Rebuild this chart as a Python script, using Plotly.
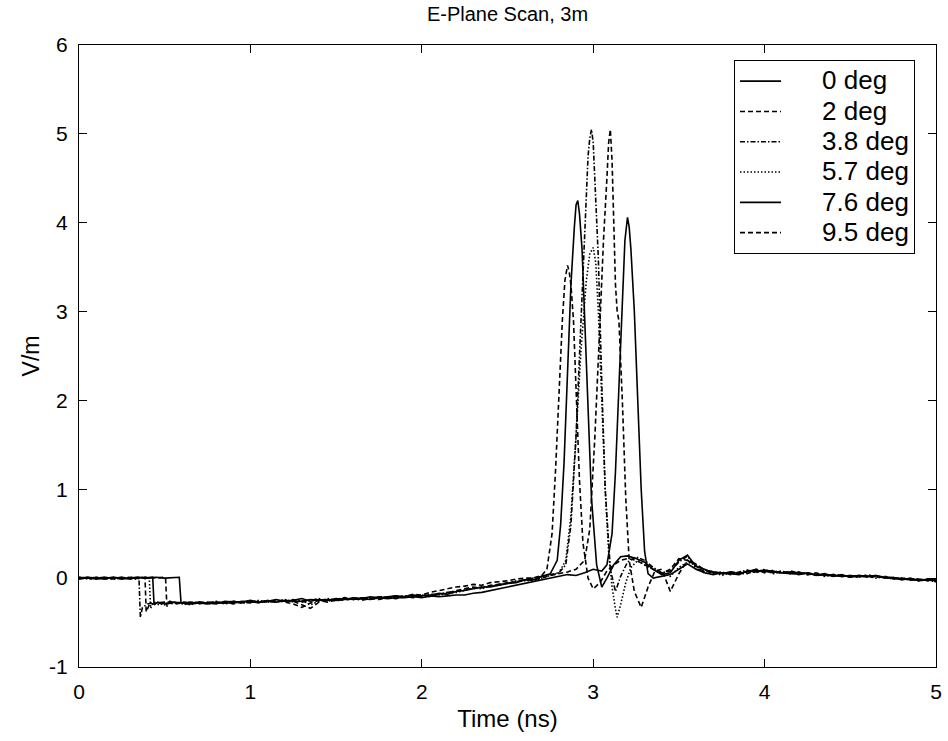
import plotly.graph_objects as go

# ---------------- data ----------------
SERIES_NAMES = ["0 deg", "2 deg", "3.8 deg", "5.7 deg", "7.6 deg", "9.5 deg"]

X_TICKS = [0, 1, 2, 3, 4, 5]
X_TICK_LABELS = ["0", "1", "2", "3", "4", "5"]
Y_TICKS = [-1, 0, 1, 2, 3, 4, 5, 6]
Y_TICK_LABELS = ["-1", "0", "1", "2", "3", "4", "5", "6"]

# shared time grids (ns)
T_PRE = [0.0, 0.05, 0.10, 0.15, 0.20, 0.25, 0.30, 0.34]
T_MID = [0.65, 0.70, 0.75, 0.80, 0.85, 0.90, 0.95, 1.00, 1.05, 1.10,
         1.15, 1.20, 1.25, 1.30, 1.35, 1.40, 1.45, 1.50, 1.55, 1.60,
         1.65, 1.70, 1.75, 1.80, 1.85, 1.90, 1.95, 2.00, 2.05, 2.10,
         2.15, 2.20, 2.25, 2.30, 2.35, 2.40, 2.45, 2.50, 2.55, 2.60]
T_POST = [3.45, 3.50, 3.55, 3.60, 3.65, 3.70, 3.75, 3.80, 3.85, 3.90,
          3.95, 4.00, 4.05, 4.10, 4.15, 4.20, 4.25, 4.30, 4.35, 4.40,
          4.45, 4.50, 4.55, 4.60, 4.65, 4.70, 4.75, 4.80, 4.85, 4.90,
          4.95, 5.00]

# ---- 0 deg ----
PRE_0 = [0.0, 0.01, -0.01, 0.0, 0.01, -0.01, 0.0, 0.01]
STEP_T_0 = [0.40, 0.45, 0.50, 0.55, 0.585, 0.595, 0.62]
STEP_V_0 = [0.0, 0.01, 0.0, 0.01, 0.01, -0.27, -0.29]
MID_0 = [-0.29, -0.28, -0.29, -0.27, -0.28, -0.28, -0.26, -0.27, -0.27, -0.26,
         -0.27, -0.25, -0.26, -0.26, -0.24, -0.25, -0.24, -0.25, -0.23, -0.24,
         -0.23, -0.24, -0.22, -0.23, -0.22, -0.22, -0.21, -0.22, -0.2, -0.21,
         -0.2, -0.19, -0.19, -0.17, -0.16, -0.14, -0.12, -0.1, -0.08, -0.06]
PULSE_T_0 = [2.65, 2.70, 2.75, 2.80, 2.85, 2.90, 2.95, 3.00, 3.05, 3.08, 3.11, 3.13,
             3.15, 3.17, 3.185, 3.20, 3.21, 3.22, 3.24, 3.26, 3.28, 3.30, 3.32, 3.35, 3.40]
PULSE_V_0 = [-0.04, -0.02, 0.0, 0.02, 0.04, 0.03, 0.06, 0.1, 0.08, 0.15, 0.5, 1.2,
             2.2, 3.2, 3.8, 4.06, 3.95, 3.7, 3.0, 2.0, 1.0, 0.3, 0.05, 0.0, 0.02]
POST_0 = [0.04, 0.10, 0.16, 0.10, 0.06, 0.04, 0.06, 0.05, 0.04, 0.08, 0.09, 0.07,
          0.08, 0.06, 0.07, 0.04, 0.06, 0.03, 0.05, 0.02, 0.04, 0.01, 0.03, 0.02,
          0.03, 0.0, 0.01, -0.02, 0.0, -0.03, -0.01, -0.03]

# ---- 2 deg ----
PRE_2 = [-0.01, 0.0, 0.01, -0.01, 0.0, 0.01, -0.01, 0.0]
STEP_T_2 = [0.40, 0.45, 0.50, 0.505, 0.513, 0.53, 0.57, 0.61]
STEP_V_2 = [0.01, 0.0, 0.01, 0.0, -0.32, -0.26, -0.29, -0.27]
MID_2 = [-0.28, -0.29, -0.27, -0.28, -0.27, -0.29, -0.27, -0.28, -0.26, -0.27,
         -0.25, -0.27, -0.29, -0.33, -0.28, -0.25, -0.27, -0.24, -0.25, -0.23,
         -0.25, -0.23, -0.24, -0.22, -0.23, -0.21, -0.22, -0.2, -0.21, -0.18,
         -0.17, -0.14, -0.12, -0.1, -0.11, -0.08, -0.07, -0.05, -0.04, -0.02]
PULSE_T_2 = [2.65, 2.70, 2.75, 2.80, 2.85, 2.90, 2.95, 2.98, 3.01, 3.04, 3.06, 3.08,
             3.09, 3.10, 3.11, 3.12, 3.13, 3.14, 3.15, 3.17, 3.19, 3.21, 3.24, 3.28,
             3.32, 3.36, 3.40]
PULSE_V_2 = [-0.02, 0.0, 0.03, 0.05, 0.07, 0.1, 0.2, 0.55, 1.6, 2.9, 3.8, 4.5,
             4.9, 5.05, 4.7, 4.0, 3.3, 3.0, 2.9, 2.0, 0.9, 0.2, -0.15, -0.33,
             -0.1, 0.08, 0.1]
POST_2 = [-0.15, 0.05, 0.2, 0.14, 0.07, 0.08, 0.04, 0.07, 0.06, 0.05, 0.1, 0.06,
          0.09, 0.05, 0.08, 0.06, 0.04, 0.06, 0.03, 0.04, 0.02, 0.03, 0.01, 0.04,
          0.01, 0.02, -0.01, 0.0, -0.02, -0.01, -0.03, -0.02]

# ---- 3.8 deg ----
PRE_38 = [0.01, -0.01, 0.0, 0.01, -0.01, 0.0, 0.01, 0.0]
STEP_T_38 = [0.35, 0.358, 0.37, 0.40, 0.45, 0.50, 0.55, 0.60]
STEP_V_38 = [0.0, -0.44, -0.33, -0.29, -0.27, -0.3, -0.27, -0.28]
MID_38 = [-0.27, -0.28, -0.28, -0.26, -0.29, -0.27, -0.28, -0.26, -0.27, -0.25,
          -0.26, -0.26, -0.24, -0.27, -0.25, -0.23, -0.26, -0.24, -0.22, -0.24,
          -0.22, -0.23, -0.21, -0.22, -0.21, -0.2, -0.21, -0.19, -0.2, -0.18,
          -0.16, -0.15, -0.13, -0.12, -0.1, -0.09, -0.07, -0.06, -0.03, -0.02]
PULSE_T_38 = [2.65, 2.70, 2.75, 2.80, 2.84, 2.87, 2.90, 2.93, 2.95, 2.97, 2.98, 2.99,
              3.00, 3.01, 3.03, 3.05, 3.07, 3.10, 3.13, 3.16, 3.20, 3.25, 3.30, 3.35, 3.40]
PULSE_V_38 = [0.0, 0.02, 0.04, 0.06, 0.15, 0.6, 1.6, 3.0, 4.0, 4.75, 4.95, 5.05,
              4.9, 4.5, 3.6, 2.2, 1.0, 0.1, -0.15, 0.02, 0.18, 0.24, 0.2, 0.12, 0.06]
POST_38 = [0.08, 0.18, 0.25, 0.1, 0.09, 0.05, 0.07, 0.04, 0.07, 0.09, 0.06, 0.1,
           0.06, 0.08, 0.05, 0.07, 0.04, 0.05, 0.02, 0.04, 0.03, 0.01, 0.03, 0.02,
           0.0, 0.02, 0.0, -0.01, -0.02, -0.01, -0.03, -0.02]

# ---- 5.7 deg ----
PRE_57 = [0.0, 0.0, 0.01, 0.0, -0.01, 0.01, 0.0, -0.01]
STEP_T_57 = [0.37, 0.41, 0.418, 0.43, 0.47, 0.52, 0.57, 0.61]
STEP_V_57 = [0.01, 0.0, -0.34, -0.28, -0.3, -0.27, -0.28, -0.29]
MID_57 = [-0.3, -0.27, -0.29, -0.28, -0.27, -0.26, -0.28, -0.27, -0.25, -0.27,
          -0.26, -0.24, -0.27, -0.25, -0.3, -0.26, -0.23, -0.25, -0.24, -0.22,
          -0.24, -0.22, -0.23, -0.21, -0.22, -0.21, -0.2, -0.2, -0.18, -0.19,
          -0.17, -0.16, -0.14, -0.11, -0.12, -0.09, -0.08, -0.06, -0.04, -0.03]
PULSE_T_57 = [2.65, 2.70, 2.75, 2.80, 2.84, 2.87, 2.90, 2.93, 2.96, 2.98, 3.00, 3.015,
              3.03, 3.05, 3.07, 3.09, 3.11, 3.13, 3.14, 3.16, 3.19, 3.22, 3.26, 3.30,
              3.35, 3.40]
PULSE_V_57 = [-0.03, 0.0, 0.03, 0.06, 0.2, 0.7, 1.6, 2.6, 3.35, 3.65, 3.72, 3.55,
              3.0, 2.0, 1.0, 0.3, -0.1, -0.35, -0.44, -0.3, -0.05, 0.12, 0.2, 0.15,
              0.1, 0.05]
POST_57 = [0.02, 0.12, 0.18, 0.15, 0.05, 0.07, 0.03, 0.06, 0.04, 0.06, 0.07, 0.09,
           0.05, 0.07, 0.06, 0.04, 0.06, 0.03, 0.04, 0.02, 0.03, 0.02, 0.01, 0.03,
           0.02, 0.01, -0.01, 0.0, -0.01, -0.03, -0.02, -0.04]

# ---- 7.6 deg ----
PRE_76 = [-0.01, 0.01, 0.0, -0.01, 0.01, 0.0, -0.01, 0.01]
STEP_T_76 = [0.38, 0.43, 0.438, 0.46, 0.50, 0.55, 0.60]
STEP_V_76 = [0.0, 0.01, -0.3, -0.27, -0.29, -0.27, -0.28]
MID_76 = [-0.28, -0.27, -0.28, -0.29, -0.26, -0.27, -0.27, -0.25, -0.27, -0.26,
          -0.24, -0.26, -0.25, -0.23, -0.26, -0.24, -0.25, -0.23, -0.24, -0.22,
          -0.23, -0.21, -0.22, -0.21, -0.2, -0.21, -0.19, -0.2, -0.19, -0.17,
          -0.18, -0.15, -0.14, -0.12, -0.1, -0.1, -0.08, -0.06, -0.05, -0.02]
PULSE_T_76 = [2.65, 2.70, 2.75, 2.79, 2.81, 2.83, 2.85, 2.87, 2.89, 2.90, 2.91, 2.92,
              2.935, 2.95, 2.97, 2.99, 3.02, 3.05, 3.08, 3.12, 3.16, 3.20, 3.25, 3.30,
              3.35, 3.40]
PULSE_V_76 = [-0.02, 0.02, 0.05, 0.2, 0.6, 1.3, 2.3, 3.3, 3.95, 4.2, 4.25, 4.1,
              3.7, 2.9, 1.8, 0.9, 0.15, -0.1, 0.0, 0.15, 0.24, 0.25, 0.22, 0.18,
              0.1, 0.04]
POST_76 = [0.06, 0.2, 0.26, 0.13, 0.1, 0.06, 0.05, 0.07, 0.05, 0.08, 0.07, 0.09,
           0.07, 0.06, 0.05, 0.06, 0.05, 0.04, 0.04, 0.03, 0.02, 0.03, 0.02, 0.02,
           0.03, 0.01, 0.0, -0.01, -0.01, -0.02, -0.02, -0.03]

# ---- 9.5 deg ----
PRE_95 = [0.01, 0.0, -0.01, 0.01, 0.0, -0.01, 0.01, 0.0]
STEP_T_95 = [0.36, 0.385, 0.392, 0.41, 0.45, 0.50, 0.55, 0.60]
STEP_V_95 = [0.0, 0.01, -0.38, -0.3, -0.28, -0.27, -0.29, -0.27]
MID_95 = [-0.29, -0.27, -0.28, -0.27, -0.28, -0.26, -0.27, -0.26, -0.28, -0.25,
          -0.27, -0.25, -0.26, -0.3, -0.34, -0.27, -0.24, -0.26, -0.23, -0.24,
          -0.22, -0.23, -0.21, -0.22, -0.2, -0.21, -0.18, -0.19, -0.16, -0.14,
          -0.12, -0.1, -0.09, -0.07, -0.08, -0.05, -0.04, -0.03, -0.01, 0.0]
PULSE_T_95 = [2.65, 2.70, 2.73, 2.76, 2.78, 2.80, 2.82, 2.835, 2.85, 2.86, 2.87, 2.885,
              2.90, 2.92, 2.94, 2.97, 3.00, 3.04, 3.08, 3.12, 3.16, 3.20, 3.25, 3.30,
              3.35, 3.40]
PULSE_V_95 = [0.0, 0.03, 0.1, 0.5, 1.2, 2.1, 2.9, 3.35, 3.52, 3.45, 3.3, 2.9,
              2.1, 1.1, 0.4, 0.0, -0.12, -0.05, 0.08, 0.15, 0.2, 0.22, 0.2, 0.15,
              0.1, 0.05]
POST_95 = [0.1, 0.22, 0.2, 0.16, 0.09, 0.07, 0.06, 0.05, 0.06, 0.07, 0.1, 0.08,
           0.06, 0.08, 0.05, 0.05, 0.06, 0.04, 0.03, 0.04, 0.02, 0.02, 0.03, 0.01,
           0.02, 0.01, 0.0, 0.0, -0.02, -0.02, -0.01, -0.04]

SEGMENTS = [
    (PRE_0, STEP_T_0, STEP_V_0, MID_0, PULSE_T_0, PULSE_V_0, POST_0),
    (PRE_2, STEP_T_2, STEP_V_2, MID_2, PULSE_T_2, PULSE_V_2, POST_2),
    (PRE_38, STEP_T_38, STEP_V_38, MID_38, PULSE_T_38, PULSE_V_38, POST_38),
    (PRE_57, STEP_T_57, STEP_V_57, MID_57, PULSE_T_57, PULSE_V_57, POST_57),
    (PRE_76, STEP_T_76, STEP_V_76, MID_76, PULSE_T_76, PULSE_V_76, POST_76),
    (PRE_95, STEP_T_95, STEP_V_95, MID_95, PULSE_T_95, PULSE_V_95, POST_95),
]

# ---------------- styling ----------------
DASHES = ["solid", "5px,3px", "5px,2px,1.5px,2px", "1.5px,2px", "solid", "5px,3px"]
FONT = "Liberation Sans, Arial, Helvetica, sans-serif"
NBSP = "\u00a0"

fig = go.Figure()
for name, dash, seg in zip(SERIES_NAMES, DASHES, SEGMENTS):
    pre, st_t, st_v, mid, pu_t, pu_v, post = seg
    t = T_PRE + st_t + T_MID + pu_t + T_POST
    v = pre + st_v + mid + pu_v + post
    fig.add_trace(go.Scatter(
        x=t, y=v, mode="lines",
        name='<span style="font-size:26px">' + NBSP * 5 + name + "</span>",
        line=dict(color="black", width=1.6, dash=dash),
    ))

axis_common = dict(
    showgrid=False, zeroline=False, showline=True, linecolor="black",
    linewidth=1, mirror="ticks", ticks="inside", ticklen=8, tickwidth=1,
    tickcolor="black", tickfont=dict(family=FONT, size=21, color="black"),
    ticklabelstandoff=6, automargin=False,
)

fig.update_layout(
    width=948, height=741,
    margin=dict(l=79, r=12, t=45, b=74, autoexpand=False),
    paper_bgcolor="white", plot_bgcolor="white",
    font=dict(family=FONT, color="black"),
    title=dict(text="E-Plane Scan, 3m", x=0.5, xref="paper", xanchor="center",
               y=1 - 14 / 741, yref="container", yanchor="middle",
               font=dict(family=FONT, size=20, color="black")),
    xaxis=dict(range=[0, 5], tickvals=X_TICKS, ticktext=X_TICK_LABELS,
               title=dict(text="Time (ns)", font=dict(family=FONT, size=24), standoff=7),
               **axis_common),
    yaxis=dict(range=[-1, 6], tickvals=Y_TICKS, ticktext=Y_TICK_LABELS,
               title=dict(text="V/m", font=dict(family=FONT, size=23), standoff=3),
               **axis_common),
    legend=dict(x=(915 - 79) / 857, xanchor="right", y=(667 - 60) / 622, yanchor="top",
                bordercolor="black", borderwidth=1, bgcolor="white",
                font=dict(family=FONT, size=21, color="black"),
                itemwidth=41, tracegroupgap=0),
    showlegend=True,
)

fig.write_html("out.html")
